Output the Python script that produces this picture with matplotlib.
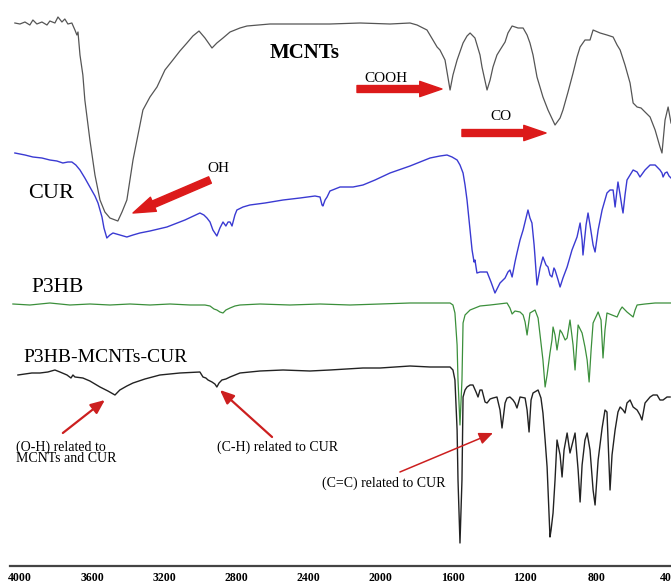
import matplotlib
matplotlib.use("Agg")
import matplotlib.pyplot as plt

# FTIR spectra (wavenumber in cm^-1, stacked transmittance in arbitrary units)
mcnts_wn = [4028, 4000, 3972, 3945, 3928, 3906, 3878, 3850, 3834, 3806, 3789, 3767, 3751, 3734,
            3712, 3695, 3684, 3678, 3667, 3651, 3640, 3612, 3584, 3556, 3529, 3501, 3457, 3434,
            3407, 3373, 3351, 3318, 3279, 3240, 3196, 3152, 3113, 3074, 3041, 3007, 2974, 2935,
            2908, 2874, 2835, 2780, 2741, 2614, 2447, 2281, 2114, 1948, 1837, 1798, 1765, 1743,
            1710, 1687, 1671, 1643, 1615, 1599, 1576, 1543, 1521, 1504, 1477, 1449, 1438, 1410,
            1393, 1377, 1355, 1338, 1310, 1294, 1271, 1238, 1210, 1188, 1172, 1155, 1133, 1100,
            1072, 1033, 1005, 989, 961, 933, 911, 894, 867, 839, 822, 783, 745, 711, 689, 672,
            645, 617, 600, 578, 556, 534, 506, 478, 451, 440, 423, 406, 390]
mcnts_t = [543, 542, 544, 541, 546, 542, 544, 541, 545, 543, 549, 544, 547, 542,
           543, 536, 531, 534, 511, 491, 466, 426, 391, 366, 354, 348, 345, 354,
           366, 406, 426, 456, 469, 479, 496, 506, 515, 523, 530, 535, 528, 518,
           523, 528, 534, 538, 540, 542, 542, 542, 543, 542, 543, 541, 538, 536,
           526, 519, 516, 506, 476, 491, 506, 523, 530, 533, 528, 511, 499, 476,
           486, 499, 511, 516, 524, 533, 540, 538, 538, 531, 523, 511, 489, 469,
           456, 441, 448, 456, 474, 493, 509, 519, 526, 526, 536, 533, 531, 529, 521, 516,
           501, 483, 463, 459, 458, 454, 449, 436, 419, 413, 446, 459, 443]

cur_wn = [4028, 3972, 3928, 3878, 3834, 3795, 3762, 3734, 3712, 3690, 3667, 3640, 3612, 3584,
          3567, 3556, 3545, 3534, 3518, 3501, 3484, 3446, 3407, 3373, 3335, 3279, 3185, 3085,
          3002, 2980, 2963, 2946, 2930, 2908, 2891, 2874, 2858, 2846, 2835, 2824, 2808, 2797,
          2763, 2725, 2641, 2541, 2447, 2364, 2336, 2325, 2320, 2308, 2297, 2281, 2225, 2153,
          2098, 2031, 1948, 1837, 1726, 1671, 1632, 1604, 1576, 1560, 1543, 1532, 1521, 1504,
          1493, 1482, 1477, 1466, 1449, 1427, 1410, 1388, 1366, 1338, 1310, 1294, 1283, 1271,
          1255, 1244, 1227, 1210, 1194, 1183, 1172, 1161, 1149, 1144, 1133, 1116, 1100, 1083,
          1072, 1061, 1050, 1039, 1033, 1016, 1005, 989, 966, 939, 911, 894, 883, 878, 861,
          850, 839, 822, 811, 794, 772, 745, 728, 711, 700, 689, 684, 672, 661, 656, 645, 634,
          617, 600, 578, 562, 534, 506, 478, 451, 440, 434, 423, 412, 401, 390]
cur_t = [413, 411, 409, 408, 406, 405, 403, 404, 404, 401, 396, 388, 379, 370,
         363, 356, 349, 338, 328, 331, 333, 331, 329, 331, 333, 335, 339, 346,
         353, 351, 348, 344, 336, 330, 338, 344, 340, 344, 344, 340, 351, 356,
         359, 361, 363, 366, 368, 370, 369, 361, 360, 366, 369, 375, 379, 379,
         381, 386, 393, 400, 408, 410, 411, 409, 406, 401, 393, 381, 366, 336,
         316, 304, 306, 293, 294, 294, 294, 284, 273, 283, 288, 294, 296, 289,
         304, 313, 326, 336, 348, 356, 348, 343, 321, 309, 281, 298, 309, 301,
         299, 291, 289, 298, 296, 286, 279, 288, 299, 316, 329, 343, 326, 311, 341,
         353, 341, 321, 314, 336, 356, 373, 376, 376, 359, 376, 384, 371, 358, 353, 371, 386,
         391, 396, 394, 389, 396, 401, 401, 396, 393, 389, 393, 394, 390, 388]

p3hb_wn = [4039, 3945, 3834, 3723, 3612, 3501, 3390, 3279, 3168, 3057, 2974, 2946, 2924, 2908,
           2891, 2874, 2858, 2835, 2808, 2780, 2669, 2503, 2336, 2170, 2003, 1837, 1671, 1615,
           1599, 1588, 1576, 1571, 1560, 1549, 1543, 1532, 1504, 1449, 1393, 1299, 1283, 1271,
           1255, 1227, 1210, 1199, 1188, 1177, 1172, 1144, 1127, 1116, 1100, 1088, 1077, 1061,
           1050, 1044, 1033, 1022, 1005, 994, 977, 966, 950, 933, 922, 911, 905, 883, 867, 855,
           844, 833, 822, 794, 778, 767, 756, 745, 717, 689, 672, 661, 634, 600, 589, 578, 534,
           478, 390]
p3hb_t = [262, 261, 263, 261, 262, 261, 262, 261, 262, 261, 261, 260, 257, 256,
          254, 253, 256, 258, 260, 261, 262, 261, 262, 261, 262, 263, 263, 263,
          261, 253, 221, 186, 141, 186, 243, 251, 256, 260, 261, 263, 258, 252,
          255, 254, 251, 244, 231, 246, 253, 256, 248, 231, 206, 179, 191, 213,
          226, 239, 231, 216, 236, 233, 226, 228, 246, 221, 196, 226, 241, 233, 219, 206,
          184, 216, 243, 254, 246, 208, 236, 253, 251, 249, 256, 259, 254, 249, 256, 261, 262,
          263, 263]

comp_wn = [4011, 3972, 3934, 3889, 3845, 3806, 3778, 3739, 3717, 3706, 3695, 3651, 3612, 3556,
           3512, 3473, 3462, 3446, 3407, 3373, 3307, 3224, 3113, 3002, 2985, 2969, 2957, 2935,
           2919, 2908, 2896, 2880, 2858, 2835, 2780, 2669, 2541, 2392, 2281, 2098, 2003, 1837,
           1726, 1615, 1599, 1588, 1576, 1571, 1560, 1549, 1543, 1532, 1521, 1504, 1488, 1471,
           1460, 1449, 1438, 1421, 1410, 1393, 1377, 1355, 1338, 1327, 1310, 1299, 1283, 1266,
           1255, 1244, 1227, 1199, 1188, 1177, 1166, 1155, 1127, 1111, 1100, 1088, 1077, 1061,
           1055, 1044, 1033, 1022, 1005, 994, 983, 966, 950, 939, 922, 905, 894, 883, 867, 855,
           839, 822, 811, 794, 772, 756, 745, 728, 717, 700, 684, 672, 656, 645, 634, 617, 600,
           578, 562, 551, 534, 506, 489, 467, 451, 434, 412, 395]
comp_t = [191, 192, 193, 193, 194, 196, 194, 191, 188, 191, 189, 188, 185, 179,
          175, 171, 173, 176, 180, 183, 187, 191, 193, 194, 189, 188, 186, 184,
          182, 179, 183, 186, 187, 189, 193, 195, 196, 195, 196, 198, 198, 200,
          199, 199, 196, 186, 136, 86, 23, 86, 169, 176, 179, 181, 181, 174,
          169, 176, 176, 164, 163, 167, 168, 169, 156, 138, 163, 168, 169, 166,
          163, 158, 169, 168, 156, 134, 166, 173, 176, 168, 153, 126, 99, 29,
          36, 53, 86, 126, 111, 89, 116, 133, 113, 121, 133, 96, 64, 101, 126, 133,
          116, 76, 61, 106, 138, 156, 154, 76, 111, 136, 154, 159, 156, 153, 163, 166, 159,
          156, 151, 146, 163, 169, 171, 171, 166, 166, 169, 169]

tick_values = [4000, 3600, 3200, 2800, 2400, 2000, 1600, 1200, 800, 400]

SERIF = "Liberation Serif"
RED = "#dc1a1a"

fig = plt.figure(figsize=(6.71, 5.83), dpi=100)
ax = fig.add_axes([10 / 671, 17 / 583, 661 / 671, 566 / 583])
ax.set_xlim(4055, 390)
ax.set_ylim(0, 566)

ax.plot(mcnts_wn, mcnts_t, color="#555555", lw=0.9)
ax.plot(cur_wn, cur_t, color="#3a3ad2", lw=1.0)
ax.plot(p3hb_wn, p3hb_t, color="#3b8f3b", lw=0.9)
ax.plot(comp_wn, comp_t, color="#222222", lw=1.0)

# axis styling: only the bottom baseline with bold tick labels
for side in ("top", "left", "right"):
    ax.spines[side].set_visible(False)
ax.spines["bottom"].set_color("#444444")
ax.spines["bottom"].set_linewidth(1.6)
ax.set_yticks([])
ax.set_xticks(tick_values)
ax.set_xticklabels([str(v) for v in tick_values])
ax.tick_params(axis="x", length=0, pad=4)
for lbl in ax.get_xticklabels():
    lbl.set_fontfamily(SERIF)
    lbl.set_fontweight("bold")
    lbl.set_fontsize(8.5)

# spectrum names
ax.text(2419, 513, "MCNTs", family=SERIF, weight="bold", fontsize=15, ha="center", va="center")
ax.text(3828, 373, "CUR", family=SERIF, fontsize=16, ha="center", va="center")
ax.text(3934, 278, "P3HB", family=SERIF, fontsize=15.5, ha="left", va="center")
ax.text(3983, 208, "P3HB-MCNTs-CUR", family=SERIF, fontsize=14, ha="left", va="center")

# band assignments with bold arrows
fat = dict(arrowstyle="simple,head_length=1.6,head_width=1.1,tail_width=0.5",
           color=RED, mutation_scale=10, shrinkA=0, shrinkB=0)
ax.text(2902, 398, "OH", family=SERIF, fontsize=11, ha="center", va="center")
ax.annotate("", xy=(3373, 353), xytext=(2946, 386), arrowprops=fat)
ax.text(1970, 488, "COOH", family=SERIF, fontsize=11, ha="center", va="center")
ax.annotate("", xy=(1660, 477), xytext=(2131, 477), arrowprops=fat)
ax.text(1332, 450, "CO", family=SERIF, fontsize=11, ha="center", va="center")
ax.annotate("", xy=(1083, 433), xytext=(1549, 433), arrowprops=fat)

# composite band assignments with thin arrows
thin = dict(arrowstyle="-|>,head_length=0.7,head_width=0.3", color="#cc1f1f",
            lw=1.6, mutation_scale=12, shrinkA=0, shrinkB=0)
ax.text(4022, 113, "(O-H) related to\nMCNTs and CUR", family=SERIF, fontsize=10,
        ha="left", va="center", linespacing=0.85)
ax.annotate("", xy=(3529, 166), xytext=(3762, 133), arrowprops=thin)
ax.text(2908, 119, "(C-H) related to CUR", family=SERIF, fontsize=10, ha="left", va="center")
ax.annotate("", xy=(2891, 176), xytext=(2602, 129), arrowprops=thin)
ax.text(1643, 83, "(C=C) related to CUR", family=SERIF, fontsize=10, ha="right", va="center")
thin_cc = dict(thin, lw=1.1)
ax.annotate("", xy=(1377, 133), xytext=(1893, 94), arrowprops=thin_cc)

fig.savefig("out.png", dpi=100)
